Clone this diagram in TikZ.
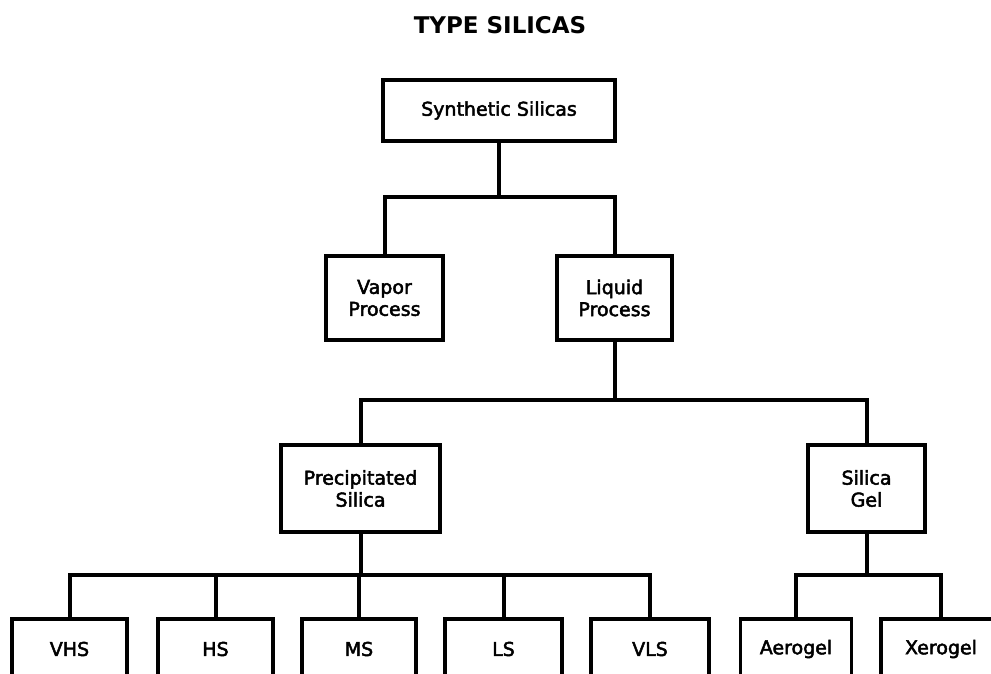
\documentclass[tikz,border=0pt]{standalone}
\usepackage{fontspec}
\setmainfont{DejaVu Sans}
\newfontfamily\labelfont[FakeBold=2.5]{DejaVu Sans}
\tikzset{
  box/.style 2 args={draw, line width=3.5pt, inner sep=0pt, align=center,
    minimum width=#1pt, minimum height=#2pt,
    font=\labelfont\fontsize{19}{22}\selectfont},
  heading/.style={font=\fontsize{23}{28}\selectfont\bfseries},
  link/.style={line width=4pt},
}
\begin{document}
\begin{tikzpicture}[x=1pt,y=-1pt]
	    % page frame, the bottom row runs off it
	    \useasboundingbox (0,0) rectangle (991,674);
	    \clip (0,0) rectangle (991,674);
	    % title
	    \node[heading] (title) at (500,25) {TYPE SILICAS};
	    % upper boxes
	    \node[box={232}{61}] (synth) at (499,110.5) {Synthetic Silicas};
	    \node[box={117}{84}] (vapor) at (384.5,298) {Vapor\\Process};
	    \node[box={115}{84}] (liquid) at (614.5,298) {Liquid\\Process};
	    \node[box={159}{87}] (precip) at (360.5,488.5) {Precipitated\\Silica};
	    \node[box={117}{87}] (gel) at (866.5,488.5) {Silica\\Gel};
	    % bottom row
	    \node[box={115}{60}] (vhs) at (69.5,649) {VHS};
	    \node[box={115}{60}] (hs) at (215.5,649) {HS};
	    \node[box={114}{60}] (ms) at (359,649) {MS};
	    \node[box={117}{60}] (ls) at (503.5,649) {LS};
	    \node[box={118}{60}] (vls) at (650,649) {VLS};
	    \node[box={111}{60}] (aero) at (796,649) {Aerogel};
	    \node[box={120}{60}] (xero) at (941,649) {Xerogel};
	    % branch points
	    \coordinate (j1) at (499,197);
	    \coordinate (j2) at (614.5,400);
	    \coordinate (j3) at (360.5,575);
	    \coordinate (j4) at (866.5,575);
	    % connectors
	    \draw[link] (synth.south) -- (j1);
	    \draw[link] (vapor.north) |- (j1) -| (liquid.north);
	    \draw[link] (liquid.south) -- (j2);
	    \draw[link] (precip.north) |- (j2) -| (gel.north);
	    \draw[link] (precip.south) -- (j3);
	    \draw[link] (vhs.north) |- (j3) -| (vls.north);
	    \foreach \n in {hs,ms,ls}
	        \draw[link] (\n.north) -- (\n.north |- j3);
	    \draw[link] (gel.south) -- (j4);
	    \draw[link] (aero.north) |- (j4) -| (xero.north);
\end{tikzpicture}
\end{document}
